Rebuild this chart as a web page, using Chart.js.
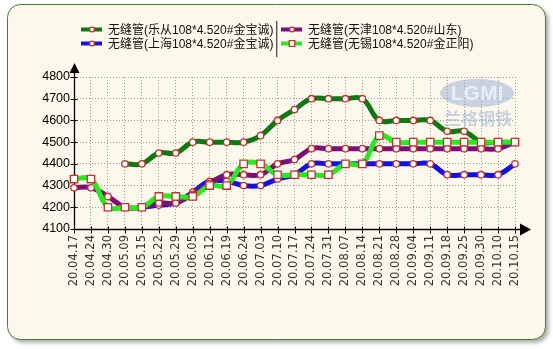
<!DOCTYPE html>
<html>
<head>
<meta charset="utf-8">
<script src="https://cdn.jsdelivr.net/npm/chart.js@4.4.0/dist/chart.umd.min.js"></script>
<style>
  html, body { margin: 0; padding: 0; background: #fff; }
  canvas { display: block; }
</style>
</head>
<body>
<canvas id="chart" width="553" height="349"></canvas>
<script>
const labels = ['20.04.17','20.04.24','20.04.30','20.05.09','20.05.15','20.05.22','20.05.29',
  '20.06.05','20.06.12','20.06.19','20.06.24','20.07.03','20.07.10','20.07.17','20.07.24',
  '20.07.31','20.08.07','20.08.14','20.08.21','20.08.28','20.09.04','20.09.11','20.09.18',
  '20.09.25','20.09.30','20.10.10','20.10.15'];

const leCong = [null,null,null,4400,4400,4450,4450,4500,4500,4500,4500,4530,4600,4650,4700,
  4700,4700,4700,4600,4600,4600,4600,4550,4550,4500,4500,4500];
const tianJin = [4290,4290,4250,4200,4200,4220,4220,4260,4310,4350,4350,4350,4400,4420,4470,
  4470,4470,4470,4470,4470,4470,4470,4470,4470,4470,4470,4500];
const shangHai = [null,null,null,null,4200,4210,4220,4270,4320,4320,4300,4300,4330,4350,4400,
  4400,4400,4400,4400,4400,4400,4400,4350,4350,4350,4350,4400];
const wuXi = [4330,4330,4200,4200,4200,4250,4250,4250,4300,4300,4400,4400,4350,4350,4350,
  4350,4400,4400,4530,4500,4500,4500,4500,4500,4500,4500,4500];

const seriesNames = ['无缝管(乐从108*4.520#金宝诚)', '无缝管(天津108*4.520#山东)',
  '无缝管(上海108*4.520#金宝诚)', '无缝管(无锡108*4.520#金正阳)'];

const yMin = 4100, yMax = 4800, yStep = 100;

function roundRect(ctx, x, y, w, h, r) {
  ctx.beginPath();
  ctx.moveTo(x + r, y);
  ctx.lineTo(x + w - r, y);
  ctx.arcTo(x + w, y, x + w, y + r, r);
  ctx.lineTo(x + w, y + h - r);
  ctx.arcTo(x + w, y + h, x + w - r, y + h, r);
  ctx.lineTo(x + r, y + h);
  ctx.arcTo(x, y + h, x, y + h - r, r);
  ctx.lineTo(x, y + r);
  ctx.arcTo(x, y, x + r, y, r);
  ctx.closePath();
}

function drawMarker(ctx, style, x, y, r) {
  ctx.fillStyle = '#fff';
  ctx.lineWidth = 1.3;
  ctx.strokeStyle = '#c8302a';
  ctx.beginPath();
  if (style === 'rect') {
    ctx.rect(x - r, y - r, 2 * r, 2 * r);
  } else {
    ctx.arc(x, y, r, 0, Math.PI * 2);
  }
  ctx.fill();
  ctx.stroke();
}

const framePlugin = {
  id: 'frame',
  beforeDraw(chart) {
    const ctx = chart.ctx;
    ctx.save();
    ctx.fillStyle = '#fff';
    ctx.fillRect(0, 0, chart.width, chart.height);
    ctx.shadowColor = 'rgba(0,0,0,0.35)';
    ctx.shadowOffsetX = 3;
    ctx.shadowOffsetY = 3;
    ctx.shadowBlur = 4;
    roundRect(ctx, 7.5, 4.5, 538, 335, 13);
    ctx.fillStyle = '#fcf8ec';
    ctx.fill();
    ctx.shadowColor = 'transparent';
    ctx.lineWidth = 1;
    ctx.strokeStyle = '#3f7f2f';
    ctx.stroke();
    ctx.restore();
  },
  beforeDatasetsDraw(chart) {
    const ctx = chart.ctx;
    const xs = chart.scales.x, ys = chart.scales.y;
    const a = chart.chartArea;
    ctx.save();

    // watermark
    ctx.fillStyle = 'rgba(150,172,210,0.5)';
    ctx.beginPath();
    ctx.ellipse(477, 93, 37, 14, 0, 0, Math.PI * 2);
    ctx.fill();
    ctx.font = 'bold 21px "Liberation Sans"';
    ctx.textAlign = 'center';
    ctx.textBaseline = 'middle';
    ctx.fillStyle = 'rgba(235,240,250,0.9)';
    ctx.fillText('LGMI', 477, 94);
    ctx.font = 'bold 17px "Noto Sans CJK SC"';
    ctx.fillStyle = 'rgba(150,172,210,0.5)';
    ctx.fillText('兰格钢铁', 478, 119);

    // axes
    const x0 = Math.round(a.left) + 0.5;
    const y0 = Math.round(a.bottom) + 0.5;
    ctx.strokeStyle = '#000';
    ctx.fillStyle = '#000';
    ctx.lineWidth = 1.3;
    ctx.beginPath();
    ctx.moveTo(x0, y0);
    ctx.lineTo(x0, 72);
    ctx.moveTo(x0, y0);
    ctx.lineTo(521, y0);
    ctx.stroke();

    ctx.lineWidth = 1;
    ctx.beginPath();
    ys.ticks.forEach((t, i) => {
      const py = Math.round(ys.getPixelForTick(i)) + 0.5;
      ctx.moveTo(x0 - 4, py);
      ctx.lineTo(x0 + 3, py);
    });
    xs.ticks.forEach((t, i) => {
      const px = Math.round(xs.getPixelForTick(i)) + 0.5;
      ctx.moveTo(px, y0 - 3);
      ctx.lineTo(px, y0 + 4);
    });
    ctx.stroke();

    ctx.beginPath();
    ctx.moveTo(x0, 63);
    ctx.lineTo(x0 - 5, 73);
    ctx.lineTo(x0 + 5, 73);
    ctx.closePath();
    ctx.fill();
    ctx.beginPath();
    ctx.moveTo(531, y0);
    ctx.lineTo(520, y0 - 6);
    ctx.lineTo(520, y0 + 6);
    ctx.closePath();
    ctx.fill();
    ctx.restore();
  },
  afterDraw(chart) {
    const ctx = chart.ctx;
    const ds = chart.data.datasets;
    const spots = [[81, 29.5], [281, 29.5], [81, 43.5], [281, 43.5]];
    ctx.save();
    ctx.font = '12px "Liberation Sans", "Noto Sans CJK SC"';
    ctx.textBaseline = 'middle';
    ctx.textAlign = 'left';
    ds.forEach((d, i) => {
      const [x, y] = spots[i];
      ctx.strokeStyle = d.borderColor;
      ctx.lineWidth = 4;
      ctx.beginPath();
      ctx.moveTo(x, y);
      ctx.lineTo(x + 21, y);
      ctx.stroke();
      drawMarker(ctx, d.pointStyle, x + 11, y, d.pointStyle === 'rect' ? 2.8 : 2.4);
      ctx.fillStyle = '#111';
      ctx.fillText(d.label, x + 27, y + 1);
    });
    // divider
    ctx.lineWidth = 1;
    ctx.strokeStyle = '#555';
    ctx.beginPath();
    ctx.moveTo(276.5, 21);
    ctx.lineTo(276.5, 57);
    ctx.stroke();
    ctx.strokeStyle = '#bbb';
    ctx.beginPath();
    ctx.moveTo(277.5, 21);
    ctx.lineTo(277.5, 57);
    ctx.stroke();
    ctx.restore();
  }
};

function series(label, data, color, style, order) {
  return {
    label: label,
    data: data,
    borderColor: color,
    backgroundColor: color,
    borderWidth: 5,
    tension: 0.4,
    spanGaps: false,
    pointStyle: style,
    pointRadius: style === 'rect' ? 5.2 : 3.2,
    pointBackgroundColor: '#fff',
    pointBorderColor: '#c8302a',
    pointBorderWidth: 1.3,
    order: order
  };
}

new Chart(document.getElementById('chart'), {
  type: 'line',
  data: {
    labels: labels,
    datasets: [
      series(seriesNames[0], leCong, '#0b7a12', 'circle', 3),
      series(seriesNames[1], tianJin, '#7d0f7d', 'circle', 1),
      series(seriesNames[2], shangHai, '#1111ee', 'circle', 2),
      series(seriesNames[3], wuXi, '#22ee1c', 'rect', 0)
    ]
  },
  options: {
    responsive: false,
    animation: false,
    devicePixelRatio: 1,
    layout: { padding: { left: 0, right: 38, top: 77, bottom: 40 } },
    plugins: {
      legend: { display: false },
      tooltip: { enabled: false }
    },
    scales: {
      x: {
        offset: false,
        grid: { color: '#9a9a9a', lineWidth: 1, drawTicks: false },
        border: { display: false, dash: [1, 2] },
        ticks: {
          autoSkip: false,
          maxRotation: 90,
          minRotation: 90,
          padding: 6,
          color: '#333',
          font: { family: '"DejaVu Sans"', size: 11.5 }
        },
        afterFit(scale) { scale.height = 80; }
      },
      y: {
        min: yMin,
        max: yMax,
        grid: { color: '#9a9a9a', lineWidth: 1, drawTicks: false },
        border: { display: false, dash: [1, 2] },
        ticks: {
          stepSize: yStep,
          padding: 4,
          color: '#000',
          font: { family: '"Liberation Sans"', size: 12.5 },
          callback: (v) => String(v)
        },
        afterFit(scale) { scale.width = 74; }
      }
    }
  },
  plugins: [framePlugin]
});
</script>
</body>
</html>
